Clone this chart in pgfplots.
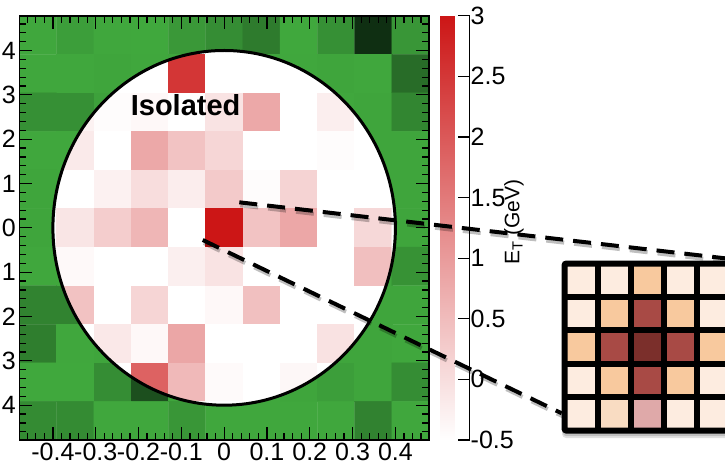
\documentclass[border=0pt]{standalone}
\usepackage{fontspec}
\setmainfont{Liberation Sans}
\usepackage{pgfplots}
\pgfplotsset{compat=1.18}

\pgfplotsset{
  /pgf/number format/assume math mode=true,
  towers/.style={at={(19.3pt,34pt)}, anchor=south west, scale only axis,
    width=409.7pt, height=424.3pt, hide axis,
    xmin=-0.5, xmax=10.5, ymin=-0.5, ymax=10.5},
}

\begin{document}
\begin{tikzpicture}
\useasboundingbox (0,0) rectangle (725pt,474pt);

% towers outside the cone (green)
\begin{axis}[towers,
  colormap={greens}{rgb255=(15,47,18) rgb255=(65,170,62)},
  point meta min=0, point meta max=1]
\addplot[matrix plot*, mesh/cols=11, point meta=explicit] coordinates {
(0,10)[0.97] (1,10)[0.90] (2,10)[0.97] (3,10)[0.98] (4,10)[0.85] (5,10)[0.76] (6,10)[0.61] (7,10)[0.98] (8,10)[0.78] (9,10)[0.00] (10,10)[0.83]
(0,9)[0.97] (1,9)[0.97] (2,9)[0.95] (3,9)[0.97] (4,9)[0.95] (5,9)[0.92] (6,9)[0.95] (7,9)[0.97] (8,9)[0.95] (9,9)[0.97] (10,9)[0.49]
(0,8)[0.78] (1,8)[0.78] (2,8)[0.92] (3,8)[0.97] (4,8)[1] (5,8)[1] (6,8)[1] (7,8)[0.97] (8,8)[0.97] (9,8)[0.95] (10,8)[0.70]
(0,7)[0.97] (1,7)[0.97] (2,7)[1] (3,7)[1] (4,7)[1] (5,7)[1] (6,7)[1] (7,7)[1] (8,7)[1] (9,7)[0.95] (10,7)[0.95]
(0,6)[0.95] (1,6)[0.95] (2,6)[1] (3,6)[1] (4,6)[1] (5,6)[1] (6,6)[1] (7,6)[1] (8,6)[1] (9,6)[0.95] (10,6)[0.95]
(0,5)[0.95] (1,5)[0.95] (2,5)[1] (3,5)[1] (4,5)[1] (5,5)[1] (6,5)[1] (7,5)[1] (8,5)[1] (9,5)[0.95] (10,5)[0.95]
(0,4)[0.97] (1,4)[0.97] (2,4)[1] (3,4)[1] (4,4)[1] (5,4)[1] (6,4)[1] (7,4)[1] (8,4)[1] (9,4)[0.95] (10,4)[0.80]
(0,3)[0.68] (1,3)[0.68] (2,3)[1] (3,3)[1] (4,3)[1] (5,3)[1] (6,3)[1] (7,3)[1] (8,3)[1] (9,3)[0.95] (10,3)[0.95]
(0,2)[0.64] (1,2)[0.97] (2,2)[0.95] (3,2)[1] (4,2)[1] (5,2)[1] (6,2)[1] (7,2)[1] (8,2)[0.95] (9,2)[0.95] (10,2)[0.97]
(0,1)[0.98] (1,1)[0.98] (2,1)[0.76] (3,1)[0.26] (4,1)[0.95] (5,1)[0.97] (6,1)[0.97] (7,1)[0.95] (8,1)[0.90] (9,1)[0.95] (10,1)[0.76]
(0,0)[0.74] (1,0)[0.74] (2,0)[0.97] (3,0)[0.97] (4,0)[0.83] (5,0)[0.97] (6,0)[0.97] (7,0)[0.97] (8,0)[0.97] (9,0)[0.67] (10,0)[0.97]
};
\end{axis}

% towers inside the cone (E_T, red)
\begin{scope}
\clip (224.15pt,246.15pt) ellipse [x radius=171.25pt, y radius=177.35pt];
\begin{axis}[towers,
  colormap={reds}{rgb255=(255,255,255) rgb255=(204,22,22)},
  point meta min=-0.5, point meta max=3]
\addplot[matrix plot*, mesh/cols=11, point meta=explicit] coordinates {
(0,10)[-0.5] (1,10)[-0.5] (2,10)[-0.5] (3,10)[-0.5] (4,10)[-0.5] (5,10)[-0.5] (6,10)[-0.5] (7,10)[-0.5] (8,10)[-0.5] (9,10)[-0.5] (10,10)[-0.5]
(0,9)[-0.5] (1,9)[-0.5] (2,9)[-0.5] (3,9)[-0.5] (4,9)[2.5] (5,9)[-0.5] (6,9)[-0.5] (7,9)[-0.5] (8,9)[-0.5] (9,9)[-0.5] (10,9)[-0.5]
(0,8)[-0.5] (1,8)[-0.3] (2,8)[-0.45] (3,8)[-0.4] (4,8)[-0.5] (5,8)[-0.08] (6,8)[0.8] (7,8)[-0.5] (8,8)[-0.25] (9,8)[-0.5] (10,8)[-0.5]
(0,7)[-0.5] (1,7)[-0.19] (2,7)[-0.5] (3,7)[0.8] (4,7)[0.39] (5,7)[0.11] (6,7)[-0.5] (7,7)[-0.5] (8,7)[-0.45] (9,7)[-0.5] (10,7)[-0.5]
(0,6)[-0.5] (1,6)[-0.5] (2,6)[-0.29] (3,6)[0.0] (4,6)[-0.23] (5,6)[0.29] (6,6)[-0.45] (7,6)[0.16] (8,6)[-0.5] (9,6)[-0.5] (10,6)[-0.5]
(0,5)[-0.5] (1,5)[-0.11] (2,5)[0.24] (3,5)[0.59] (4,5)[-0.5] (5,5)[3.0] (6,5)[0.39] (7,5)[0.81] (8,5)[-0.5] (9,5)[0.08] (10,5)[-0.5]
(0,4)[-0.5] (1,4)[-0.41] (2,4)[-0.5] (3,4)[-0.5] (4,4)[-0.26] (5,4)[-0.08] (6,4)[-0.5] (7,4)[-0.5] (8,4)[-0.5] (9,4)[0.45] (10,4)[-0.5]
(0,3)[-0.5] (1,3)[0.41] (2,3)[-0.5] (3,3)[0.13] (4,3)[-0.5] (5,3)[-0.4] (6,3)[0.44] (7,3)[-0.5] (8,3)[-0.5] (9,3)[-0.5] (10,3)[-0.5]
(0,2)[-0.5] (1,2)[-0.5] (2,2)[-0.16] (3,2)[-0.4] (4,2)[0.83] (5,2)[-0.5] (6,2)[-0.5] (7,2)[-0.5] (8,2)[-0.07] (9,2)[-0.5] (10,2)[-0.5]
(0,1)[-0.5] (1,1)[-0.5] (2,1)[-0.5] (3,1)[1.84] (4,1)[0.54] (5,1)[-0.42] (6,1)[-0.5] (7,1)[-0.38] (8,1)[-0.5] (9,1)[-0.5] (10,1)[-0.5]
(0,0)[-0.5] (1,0)[-0.5] (2,0)[-0.5] (3,0)[-0.5] (4,0)[-0.5] (5,0)[-0.5] (6,0)[-0.5] (7,0)[-0.5] (8,0)[-0.5] (9,0)[-0.5] (10,0)[-0.5]
};
\end{axis}
\end{scope}

% frame, ticks and colour bar
\begin{axis}[name=main, at={(19.3pt,34pt)}, anchor=south west, scale only axis,
  width=409.7pt, height=424.3pt,
  xmin=-0.4785, xmax=0.4785, ymin=-0.4785, ymax=0.4785,
  xtick={-0.4,-0.3,-0.2,-0.1,0,0.1,0.2,0.3,0.4},
  ytick={-0.4,-0.3,-0.2,-0.1,0,0.1,0.2,0.3,0.4},
  minor xtick={-0.46,-0.44,...,0.47},
  minor ytick={-0.46,-0.44,...,0.47},
  tick align=inside, major tick length=13pt, minor tick length=7pt,
  axis line style={black, line width=1.6pt},
  every tick/.style={black, line width=1.2pt},
  ticklabel style={font=\fontsize{25}{30}\selectfont},
  colorbar,
  colormap={reds}{rgb255=(255,255,255) rgb255=(204,22,22)},
  point meta min=-0.5, point meta max=3,
  colorbar style={
    at={(parent axis.north east)}, anchor=north west, xshift=3pt,
    width=29pt, height=424.3pt, scale only axis,
    axis x line=none, axis y line*=right,
    y axis line style={-, black, line width=1.2pt},
    ytick={-0.5,0,0.5,1,1.5,2,2.5,3},
    ytick pos=right, yticklabel pos=right,
    tick align=inside, major tick length=12pt,
    every tick/.style={black, line width=1.2pt},
    yticklabel style={font=\fontsize{25}{30}\selectfont, inner xsep=1pt},
  },
]
\node[font=\fontsize{29}{34}\selectfont\bfseries] at (axis cs:-0.09,0.277) {Isolated};
\coordinate (d1) at (axis cs:0.0354,0.0576);
\coordinate (d2) at (axis cs:-0.050,-0.0274);
\end{axis}

% cone boundary
\draw[black, line width=3pt] (224.15pt,246.15pt) ellipse [x radius=171.25pt, y radius=177.35pt];

\node[rotate=90, font=\fontsize{21}{25}\selectfont] at (514pt,252pt) {E\textsubscript{T} (GeV)};

% zoomed inset
\fill[black, opacity=0.12, rounded corners=4pt] (562pt,36pt) rectangle (735pt,212pt);
\fill[black, opacity=0.15, rounded corners=3pt] (563pt,38pt) rectangle (735pt,212pt);
\begin{axis}[at={(564.5pt,43.4pt)}, anchor=south west, scale only axis,
  width=165pt, height=167.1pt,
  xmin=-0.5, xmax=4.5, ymin=-0.5, ymax=4.5,
  xtick={0.5,1.5,2.5,3.5}, ytick={0.5,1.5,2.5,3.5},
  xticklabels={}, yticklabels={}, major tick length=0pt,
  grid=major, grid style={black, line width=6pt},
  axis line style={black, line width=6pt, rounded corners=2pt},
  axis on top,
  colormap={inset}{rgb255=(253,236,224) rgb255=(249,220,194) rgb255=(248,201,158)
    rgb255=(223,169,169) rgb255=(168,74,69) rgb255=(123,47,43)},
  point meta min=0, point meta max=5]
\addplot[matrix plot*, mesh/cols=5, point meta=explicit] coordinates {
(0,4)[0] (1,4)[0] (2,4)[2] (3,4)[0] (4,4)[0]
(0,3)[0] (1,3)[2] (2,3)[4] (3,3)[2] (4,3)[0]
(0,2)[2] (1,2)[4] (2,2)[5] (3,2)[4] (4,2)[2]
(0,1)[0] (1,1)[2] (2,1)[4] (3,1)[2] (4,1)[0]
(0,0)[0] (1,0)[1] (2,0)[3] (3,0)[0] (4,0)[0]
};
\end{axis}

% zoom lines
\draw[black, opacity=0.25, line width=4pt, dash pattern=on 18pt off 10pt]
  ([shift={(1pt,-3pt)}]d1) -- (732pt,212pt);
\draw[black, opacity=0.25, line width=4pt, dash pattern=on 18pt off 10pt]
  ([shift={(1pt,-3pt)}]d2) -- (562.7pt,57.7pt);
\draw[black, line width=4pt, dash pattern=on 18pt off 10pt] (d1) -- (731pt,215pt);
\draw[black, line width=4pt, dash pattern=on 18pt off 10pt] (d2) -- (561.7pt,60.7pt);
\end{tikzpicture}
\end{document}
